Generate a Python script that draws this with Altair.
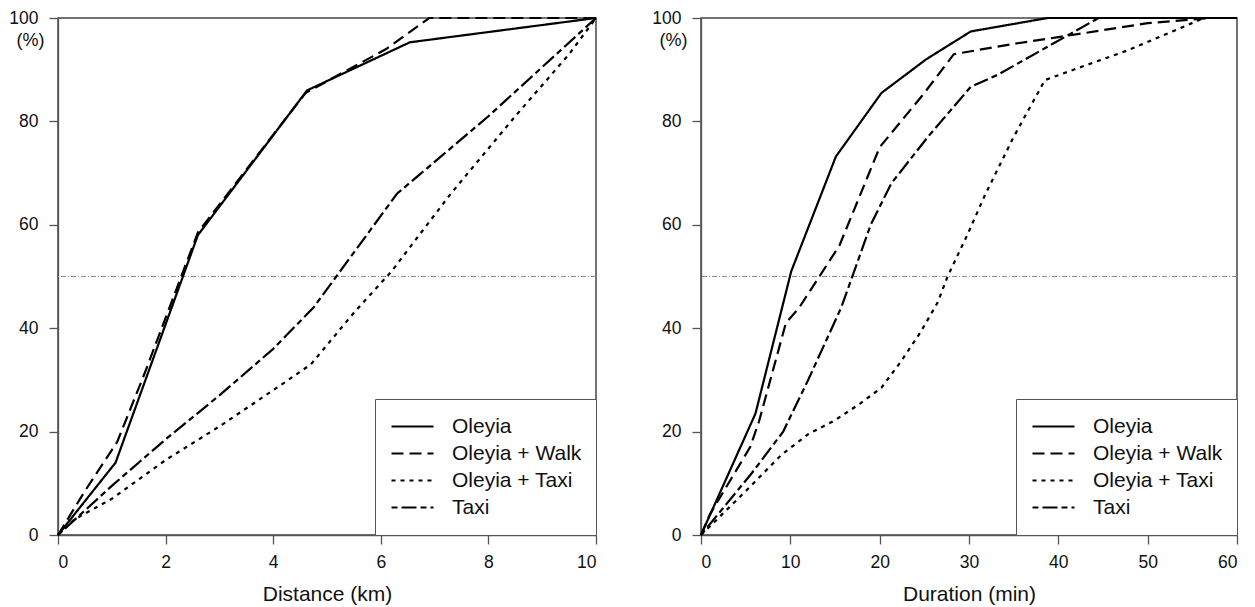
import altair as alt
import pandas as pd

series = ["Oleyia", "Oleyia + Walk", "Oleyia + Taxi", "Taxi"]
dashes = [[1, 0], [12, 6], [4, 5], [6, 4, 15, 4]]

# Left panel: cumulative share (%) by distance (km)
dist_oleyia_x = [0, 1.07, 2.6, 4.63, 6.54, 10]
dist_oleyia_y = [0, 14, 58, 86, 95.3, 100]
dist_walk_x = [0, 0.5, 1.1, 1.6, 2.6, 4.6, 6.1, 6.9, 10]
dist_walk_y = [0, 8.5, 18, 31, 58.5, 85.5, 94, 100, 100]
dist_otaxi_x = [0, 0.3, 1.0, 2.0, 3.0, 4.0, 4.7, 5.5, 6.2, 7.3, 8.5, 9.5, 10]
dist_otaxi_y = [0, 3, 7, 14.5, 21, 28, 33, 43, 51, 66, 81, 93, 100]
dist_taxi_x = [0, 1.0, 2.0, 3.0, 4.0, 4.75, 6.3, 8.0, 10]
dist_taxi_y = [0, 9.5, 18.5, 27, 36, 44, 66, 81, 100]

# Right panel: cumulative share (%) by duration (min)
dur_oleyia_x = [0, 6.1, 10.1, 15.1, 20.2, 25.2, 30.2, 38.8, 60]
dur_oleyia_y = [0, 23.5, 51, 73.2, 85.5, 92, 97.4, 100, 100]
dur_walk_x = [0, 1, 5.5, 6.5, 9.5, 11, 15.5, 20, 25, 28.3, 35, 40, 50, 57, 60]
dur_walk_y = [0, 4, 17, 22, 41, 44, 56, 75, 85.5, 93, 95, 96.3, 99, 100, 100]
dur_otaxi_x = [0, 1.2, 5.3, 9, 12, 15, 17.8, 20.2, 22.4, 24.6, 26.5, 27.6, 29.8,
               31.8, 35, 38.5, 41.7, 47.7, 52.5, 56.3, 60]
dur_otaxi_y = [0, 2, 9, 15.5, 19.5, 22.2, 25.4, 28.5, 33.6, 39.3, 45, 50, 58,
               65.8, 77, 88, 90, 93.7, 97.2, 100, 100]
dur_taxi_x = [0, 5.7, 9.2, 12, 15.7, 19, 21.3, 25.4, 30.2, 33.2, 40.6, 44.5, 60]
dur_taxi_y = [0, 12, 20, 30, 44, 60, 68, 77, 86.7, 89, 96.2, 100, 100]

y_ticks = [0, 20, 40, 60, 80, 100]
dist_ticks = [0, 2, 4, 6, 8, 10]
dur_ticks = [0, 10, 20, 30, 40, 50, 60]


def frame(pairs):
    rows = []
    for name, xs, ys in pairs:
        for i, (a, b) in enumerate(zip(xs, ys)):
            rows.append({"x": a, "y": b, "series": name, "i": i})
    return pd.DataFrame(rows)


dist_df = frame([
    ("Oleyia", dist_oleyia_x, dist_oleyia_y),
    ("Oleyia + Walk", dist_walk_x, dist_walk_y),
    ("Oleyia + Taxi", dist_otaxi_x, dist_otaxi_y),
    ("Taxi", dist_taxi_x, dist_taxi_y),
])
dur_df = frame([
    ("Oleyia", dur_oleyia_x, dur_oleyia_y),
    ("Oleyia + Walk", dur_walk_x, dur_walk_y),
    ("Oleyia + Taxi", dur_otaxi_x, dur_otaxi_y),
    ("Taxi", dur_taxi_x, dur_taxi_y),
])

FONT = "Liberation Sans"


def panel(df, xmax, xticks, xtitle, width):
    yaxis = alt.Axis(values=y_ticks, title="(%)", titleAngle=0, titleX=-28, titleY=22,
                     titleAlign="center", titleBaseline="middle", titleFontSize=18,
                     titleFontWeight="normal", titleColor="#111", titleFont=FONT)
    xaxis = alt.Axis(values=xticks, title=xtitle, titleFontSize=21, titleFontWeight="normal",
                     titleColor="#111", titlePadding=13, titleFont=FONT)
    legend = alt.Legend(title=None, orient="bottom-right", offset=0, padding=14,
                        strokeColor="#555", fillColor="white", labelFontSize=21,
                        labelFont=FONT, labelColor="#111", symbolType="stroke",
                        symbolSize=1764, symbolStrokeWidth=2.2, symbolStrokeColor="black",
                        clipHeight=27, rowPadding=0, labelOffset=17, symbolOffset=1,
                        labelLimit=400)
    lines = alt.Chart(df).mark_line(color="black", strokeWidth=2.2).encode(
        x=alt.X("x:Q", scale=alt.Scale(domain=[0, xmax], nice=False, zero=True), axis=xaxis),
        y=alt.Y("y:Q", scale=alt.Scale(domain=[0, 100], nice=False), axis=yaxis),
        strokeDash=alt.StrokeDash("series:N", scale=alt.Scale(domain=series, range=dashes),
                                  sort=series, legend=legend),
        order="i:Q",
    )
    ref = alt.Chart(df).mark_rule(color="#8a8a8a", strokeWidth=1, strokeDash=[5, 2, 1, 2]).encode(
        y=alt.datum(50)
    )
    return alt.layer(ref, lines).properties(width=width, height=517)


left = panel(dist_df, 10, dist_ticks, "Distance (km)", 538)
right = panel(dur_df, 60, dur_ticks, "Duration (min)", 536)

chart = alt.hconcat(left, right, spacing=105, bounds="flush").resolve_scale(
    strokeDash="independent"
).properties(
    padding={"left": 0, "top": 0, "right": 0, "bottom": 0}
).configure_view(
    stroke="#444", strokeWidth=1.5
).configure_axis(
    grid=False, tickSize=9, domainColor="#555", tickColor="#555", domainWidth=1.3,
    tickWidth=1.3, labelFont=FONT, labelFontSize=17.5, labelColor="#111"
).configure_axisY(
    labelPadding=11
).configure_axisX(
    labelPadding=9
)

chart.save("out.html", embed_options={"renderer": "svg", "actions": False})
